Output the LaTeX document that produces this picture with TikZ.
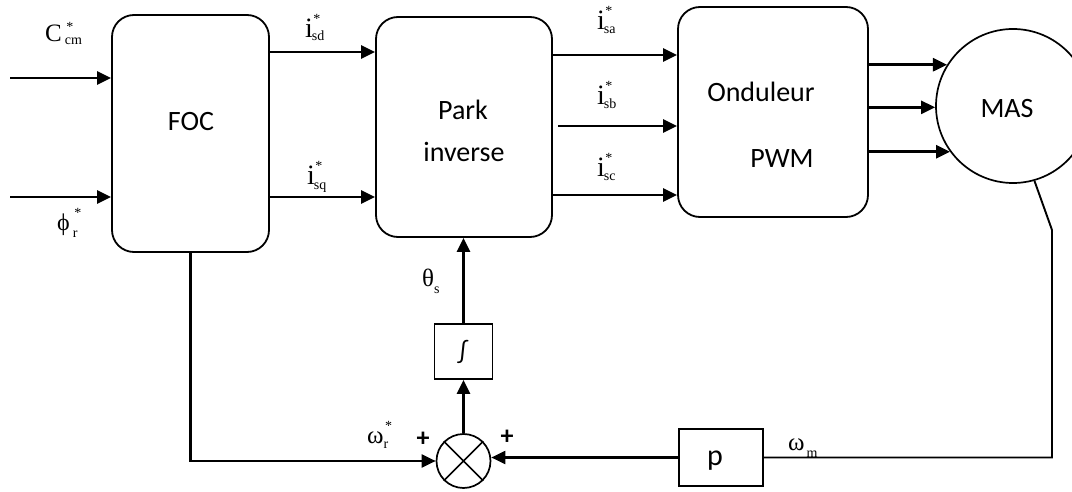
\documentclass[tikz,border=0pt]{standalone}
\usepackage{fontspec}
\setmainfont{Liberation Serif}
\newfontfamily\boxfont{Carlito}
\usetikzlibrary{arrows.meta}
\newcommand{\slab}[7]{{\fontsize{#1}{#1}\selectfont #2}\kern#6\rlap{\kern1.5pt\raisebox{#5}{\fontsize{14}{14}\selectfont #4}}\raisebox{-#7}{\fontsize{14}{14}\selectfont #3}}
\tikzset{
  blk/.style={draw, line width=1.8pt, rounded corners=22pt, inner sep=0pt},
  sqbox/.style={draw, line width=1.7pt, inner sep=0pt},
  btxt/.style={font=\boxfont\fontsize{28}{32}\selectfont, anchor=base, inner sep=0pt},
  arr/.style={line width=2.6pt, -{Triangle[length=14pt,width=13pt]}},
  arrthin/.style={line width=2.1pt, -{Triangle[length=14pt,width=13pt]}},
  thinln/.style={line width=1.9pt},
  lab/.style={inner sep=0pt, anchor=base west},
  plus/.style={font=\boxfont\bfseries\fontsize{26}{26}\selectfont, inner sep=0pt},
}
\begin{document}
\begin{tikzpicture}[x=1pt,y=-1pt]
\useasboundingbox (0,0) rectangle (1072,492);
% blocks
\node[blk, minimum width=157pt, minimum height=237pt] (FOC) at (190.5,133.5) {};
\node[blk, minimum width=176pt, minimum height=220pt] (Park) at (464,127) {};
\node[blk, minimum width=190pt, minimum height=210pt] (Ond) at (773,112) {};
\node[draw, circle, line width=1.7pt, minimum size=154pt, inner sep=0pt] (MAS) at (1013,106) {};
\node[sqbox, minimum width=58pt, minimum height=55pt] (int) at (463.5,351.5) {};
\node[draw, circle, line width=1.7pt, minimum size=54pt, inner sep=0pt] (sum) at (463.5,461) {};
\node[sqbox, minimum width=84pt, minimum height=57pt] (p) at (721,457.5) {};
\draw[line width=1.7pt] (sum.north east) -- (sum.south west) (sum.north west) -- (sum.south east);
% block texts
\node[btxt] (tFOC) at (191,131) {FOC};
\node[btxt] (tPark) at (463,120) {Park};
\node[btxt] (tInv) at (464,162) {inverse};
\node[btxt] (tOnd) at (761,102) {Onduleur};
\node[btxt] (tPWM) at (782,168) {PWM};
\node[btxt] (tMAS) at (1007,118) {MAS};
\node[btxt, anchor=center, font=\boxfont\fontsize{25}{25}\selectfont] (tint) at (463,352) {∫};
\node[btxt, font=\boxfont\fontsize{30}{30}\selectfont] (tp) at (715,465) {p};
% coordinates
\coordinate (inC) at (10,78);
\coordinate (inPhi) at (10,197);
\coordinate (ysd) at (0,52);
\coordinate (ysq) at (0,197);
\coordinate (ysa) at (0,55);
\coordinate (ysb) at (558,126);
\coordinate (ysc) at (0,195);
\coordinate (fb1) at (1052,230);
% inputs
\draw[arr] (inC) -- (inC -| FOC.west);
\draw[arr] (inPhi) -- (inPhi -| FOC.west);
\draw[arr] (FOC.east |- ysd) -- (Park.west |- ysd);
\draw[arr] (FOC.east |- ysq) -- (Park.west |- ysq);
\draw[arr] (Park.east |- ysa) -- (Ond.west |- ysa);
\draw[arr] (ysb) -- (Ond.west |- ysb);
\draw[arr] (Park.east |- ysc) -- (Ond.west |- ysc);
\draw[arr] (Ond.east |- MAS.148) -- (MAS.148);
\draw[arr] (Ond.east |- MAS.181.5) -- (MAS.181.5);
\draw[arr] (Ond.east |- MAS.216.7) -- (MAS.216.7);
% feedback
\draw[thinln] (MAS.286.6) -- (fb1) -- (fb1 |- p.east) -- (p.east);
\draw[arrthin] (p.west) -- (p.west -| sum.east);
\draw[arrthin] (FOC.south) |- (sum.west);
\draw[arr] (sum.north) -- (int.south);
\draw[arr] (int.north) -- (int.north |- Park.south);
% labels
\node[lab] (lC) at (45,42) {\slab{25}{C}{cm}{*}{10pt}{3pt}{3pt}};
\node[lab] (lPhi) at (57,230) {\slab{24}{ϕ}{r}{*}{13pt}{3pt}{7pt}};
\node[lab] (lsd) at (305,38) {\slab{28}{i}{sd}{*}{14pt}{-1pt}{3pt}};
\node[lab] (lsq) at (307,185) {\slab{28}{i}{sq}{*}{14pt}{-1pt}{5pt}};
\node[lab] (lsa) at (597,30) {\slab{28}{i}{sa}{*}{14pt}{-1pt}{4pt}};
\node[lab] (lsb) at (597,105) {\slab{28}{i}{sb}{*}{14pt}{-1pt}{4pt}};
\node[lab] (lsc) at (597,177) {\slab{28}{i}{sc}{*}{14pt}{-1pt}{4pt}};
\node[lab] (lth) at (422,287) {\slab{25}{θ}{s}{}{0pt}{0pt}{6pt}};
\node[lab] (lwr) at (367,443) {\slab{25}{ω}{r}{*}{13pt}{0pt}{5pt}};
\node[lab] (lwm) at (788,450) {\slab{25}{ω}{m}{}{0pt}{2pt}{7pt}};
\node[plus] (pl1) at (423,439) {+};
\node[plus] (pl2) at (507,437) {+};
\end{tikzpicture}
\end{document}
